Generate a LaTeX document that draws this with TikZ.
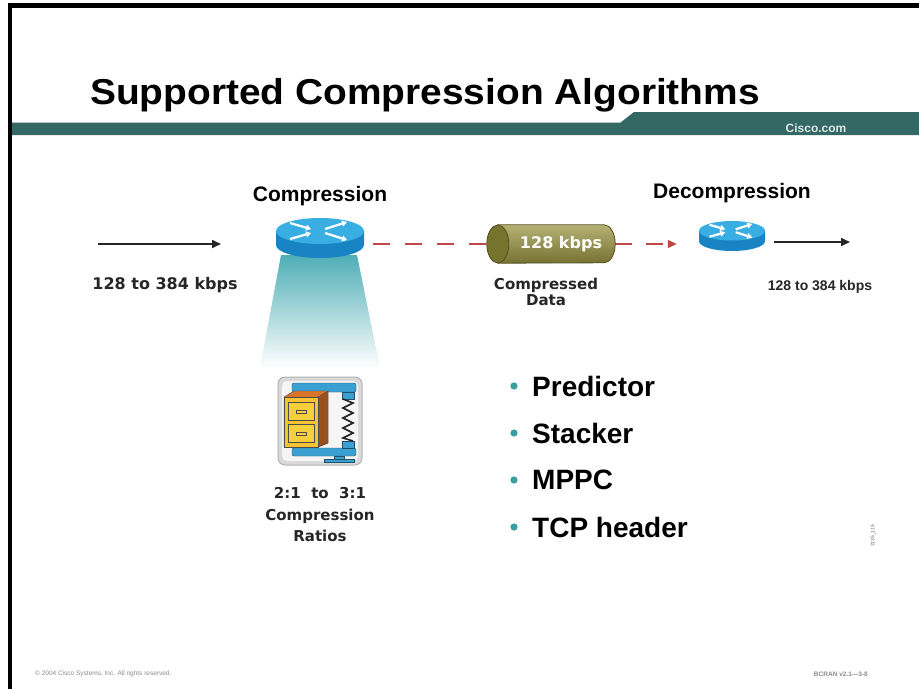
\documentclass[tikz,border=0pt]{standalone}
\usepackage{fontspec}
\setmainfont{Liberation Sans}
\newfontfamily\widesans{DejaVu Sans}
\usepackage{xcolor}
\definecolor{bannerTeal}{HTML}{336865}
\definecolor{bulletTeal}{HTML}{3A9E9E}
\definecolor{coneTeal}{HTML}{4FAEB6}
\definecolor{routerTop}{HTML}{38AEE2}
\definecolor{routerBody}{HTML}{1984C4}
\definecolor{pipeOlive}{HTML}{9C9844}
\definecolor{pipeEnd}{HTML}{76732C}
\definecolor{linkRed}{HTML}{BE4848}
\definecolor{clampBlue}{HTML}{3C9FD2}
\definecolor{drawerYellow}{HTML}{F5CF3C}
\definecolor{cabinetOrange}{HTML}{D9742A}
\definecolor{footGrey}{HTML}{8C8C8C}
\usetikzlibrary{arrows.meta,positioning}
\tikzset{
  heading/.style={font=\fontsize{21}{24}\selectfont\bfseries, inner sep=0pt},
  ratewide/.style={font=\widesans\fontsize{16}{18}\selectfont\bfseries, text=black!85, inner sep=0pt},
  ratenarrow/.style={font=\fontsize{14}{16}\selectfont\bfseries, text=black!85, inner sep=0pt},
  caption/.style={font=\widesans\fontsize{15}{17}\selectfont\bfseries, text=black!85, align=center, inner sep=0pt},
  bulletitem/.style={font=\fontsize{28}{30}\selectfont\bfseries, anchor=west, inner sep=0pt},
  routerspot/.style={inner sep=0pt, minimum width=88, minimum height=40},
  pipebox/.style={inner sep=0pt, minimum width=106, minimum height=38,
    text=white, font=\widesans\fontsize{16}{18}\selectfont\bfseries},
  flowarrow/.style={draw=black!85, line width=1.6pt, -{Triangle[length=9pt,width=8pt]}},
  linkline/.style={draw=linkRed, line width=1.4pt, dash pattern=on 17pt off 15pt},
  routerarrow/.style={draw=white, line width=2.2pt, -{Triangle[length=5pt,width=6pt]}},
  router/.pic={
    \fill[routerBody] (-44,-7) -- (-44,7) arc[start angle=180, end angle=0, x radius=44, y radius=13] -- (44,-7) -- cycle;
    \fill[routerTop] (0,-7) ellipse[x radius=44, y radius=13];
    \draw[routerarrow] (-30,-15) -- (-9,-9);
    \draw[routerarrow] (-30,1) -- (-9,-5);
    \draw[routerarrow] (5,-9) -- (27,-16);
    \draw[routerarrow] (5,-5) -- (27,2);
  }
}

\begin{document}
\begin{tikzpicture}[x=1pt,y=-1pt]
  \useasboundingbox (0,0) rectangle (919,689);
  \fill[white] (0,0) rectangle (919,689);

  % frame and banner
  \fill[black] (8,3) rectangle (919,8);
  \fill[black] (8,3) rectangle (12,689);
  \fill[bannerTeal] (12,123) -- (620,123) -- (634,112) -- (919,112) -- (919,135) -- (12,135) -- cycle;
  \draw[black!25, line width=0.6pt] (12,122.5) -- (620,122.5);
  \node[font=\fontsize{36}{40}\selectfont\bfseries, xscale=1.08, anchor=base west, inner sep=0pt] (title) at (90,104) {Supported Compression Algorithms};
  \node[font=\fontsize{12}{14}\selectfont\bfseries, text=white!85!bannerTeal, inner sep=0pt] (site) at (816,128) {Cisco.com};

  % light cone under the compressing router
  \shade[top color=coneTeal, bottom color=white] (281,255) -- (357,255) -- (380,368) -- (260,368) -- cycle;

  % routers
  \node[routerspot] (rtA) at (320,238) {};
  \pic at (rtA) {router};
  \node[routerspot, minimum width=66, minimum height=30] (rtB) at (732,236) {};
  \pic[scale=0.75] at (rtB) {router};

  \node[heading] (hdA) at (320,196) {Compression};
  \node[heading] (hdB) at (732,193) {Decompression};

  % links, drawn before the pipe so that it covers their ends
  \node[pipebox] (pipe) at (551,244) {};
  \coordinate (inL) at (98,244);
  \coordinate (inR) at (221,244);
  \coordinate (outR) at (850,242);
  \draw[flowarrow] (inL) -- (inR);
  \draw[linkline, shorten <=9pt] (rtA.east |- pipe.west) -- (pipe.west);
  \draw[linkline, -{Triangle[length=9pt,width=8pt]}, shorten <=11pt, shorten >=22pt, dash pattern=on 17pt off 14pt] (pipe.east) -- (rtB.west |- pipe.east);
  \draw[flowarrow, shorten <=9pt] (rtB.east |- outR) -- (outR);

  % compressed data pipe
  \shade[top color=pipeOlive!75!white, middle color=pipeOlive, bottom color=pipeOlive!75!black, draw=pipeEnd!70!black, line width=0.8pt]
    (pipe.north west) -- (pipe.north east) arc[start angle=270, end angle=450, x radius=11, y radius=19] -- (pipe.south west) -- cycle;
  \fill[pipeEnd, draw=pipeEnd!70!black, line width=0.8pt] (pipe.west) ellipse[x radius=11, y radius=19];
  \node[pipebox, minimum width=0pt, minimum height=0pt] (pipeRate) at ([xshift=10pt]pipe.center) {128 kbps};

  \node[ratewide] (rateIn) at (165,285) {128 to 384 kbps};
  \node[ratenarrow] (rateOut) at (820,287) {128 to 384 kbps};
  \node[caption] (pipeText) at (546,292) {Compressed\\[-1pt]Data};

  % compression utility icon
  \begin{scope}[shift={(320,421)}]
    \fill[gray!30, draw=gray!60, line width=1pt, rounded corners=7pt] (-42,-44) rectangle (42,44);
    \fill[white!92!gray, rounded corners=5pt] (-38,-40) rectangle (38,40);
    \fill[clampBlue, draw=clampBlue!50!black, rounded corners=2pt] (-28,-38) rectangle (36,-29);
    \fill[clampBlue, draw=clampBlue!50!black, rounded corners=2pt] (-28,27) rectangle (36,35);
    \fill[clampBlue, draw=clampBlue!50!black] (22,-29) rectangle (34,-22);
    \fill[clampBlue, draw=clampBlue!50!black] (22,20) rectangle (34,27);
    \draw[black!85, line width=1.6pt] (23,-22) -- (33,-18) -- (23,-13) -- (33,-8) -- (23,-3) -- (33,2) -- (23,7) -- (33,12) -- (23,17) -- (33,20);
    \fill[clampBlue, draw=clampBlue!50!black] (14,35) rectangle (24,40);
    \fill[clampBlue, draw=clampBlue!50!black] (4,38) rectangle (34,41);
    \fill[cabinetOrange, draw=black!70] (-36,-24) -- (-26,-30) -- (8,-30) -- (8,22) -- (-2,26) -- (-36,26) -- cycle;
    \fill[cabinetOrange!70!black, draw=black!70] (-2,-24) -- (8,-30) -- (8,22) -- (-2,26) -- cycle;
    \fill[drawerYellow!85!orange, draw=black!70] (-36,-24) rectangle (-2,26);
    \fill[drawerYellow, draw=black!70] (-32,-19) rectangle (-6,-1);
    \fill[drawerYellow, draw=black!70] (-32,3) rectangle (-6,21);
    \draw[black!70, line width=1pt] (-24,-11) rectangle (-14,-8);
    \draw[black!70, line width=1pt] (-24,11) rectangle (-14,14);
  \end{scope}
  \node[caption] (ratios) at (320,515) {2:1\ \ to\ \ 3:1\\[5pt]Compression\\[4pt]Ratios};

  % supported algorithms
  \foreach \alg [count=\i] in {Predictor,Stacker,MPPC,TCP header}{
    \node[bulletitem] (alg\i) at (532,{386+47*(\i-1)}) {\alg};
    \fill[bulletTeal] ([xshift=-18pt]alg\i.west) circle (3.6);
  }

  \node[rotate=90, font=\fontsize{5}{6}\selectfont, text=black!60, inner sep=0pt] (slideId) at (873,536) {2135\_115};

  % footer
  \node[anchor=west, font=\fontsize{6.5}{8}\selectfont, text=footGrey, inner sep=0pt] (copy) at (35,674) {\textcopyright\ 2004 Cisco Systems, Inc. All rights reserved.};
  \node[anchor=east, font=\fontsize{6.5}{8}\selectfont\bfseries, text=footGrey, inner sep=0pt] (course) at (868,674) {BCRAN v2.1---3-8};
\end{tikzpicture}
\end{document}
